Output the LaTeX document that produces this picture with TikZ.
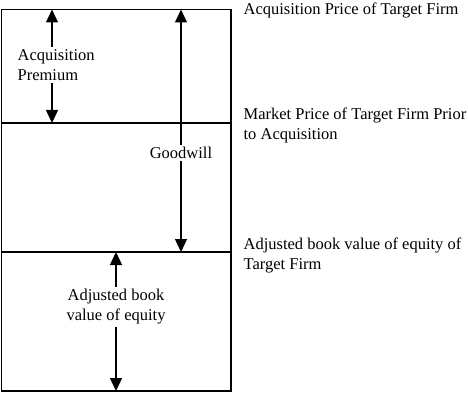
\documentclass[tikz,border=0pt]{standalone}
\usepackage{fontspec}
\setmainfont{Liberation Serif}
\usetikzlibrary{arrows.meta}
\tikzset{
  arr/.style={-{Triangle[width=12pt,length=13pt]},line width=1.3pt},
  lbl/.style={font=\fontsize{16.5}{20}\selectfont,inner sep=2pt},
  side/.style={lbl,anchor=west,align=left},
}
\begin{document}
\begin{tikzpicture}[x=1pt,y=-1pt,line width=1.3pt]
  \useasboundingbox (0,0) rectangle (468,393);
  % box and levels
  \draw (1.5,9.5) rectangle (231,391);
  \draw (1.5,123) -- (231,123);
  \draw (1.5,252) -- (231,252);
  % arrow ends on the levels
  \coordinate (premtop) at (52,9.5);
  \coordinate (prembot) at (52,123);
  \coordinate (goodtop) at (181,9.5);
  \coordinate (goodbot) at (181,252);
  \coordinate (booktop) at (116,252);
  \coordinate (bookbot) at (116,391);
  % labels inside
  \node[lbl,align=left,anchor=west] (prem) at (15,65) {Acquisition\\Premium};
  \node[lbl] (good) at (181,153) {Goodwill};
  \node[lbl,align=center] (book) at (116,307) {Adjusted book\\value of equity};
  % arrows
  \draw[arr] (prem.north -| premtop) -- (premtop);
  \draw[arr] (prem.south -| prembot) -- (prembot);
  \draw[arr] (good) -- (goodtop);
  \draw[arr] (good) -- (goodbot);
  \draw[arr] (book) -- (booktop);
  \draw[arr] (book) -- (bookbot);
  % labels on the right
  \node[side] (price) at (241,10) {Acquisition Price of Target Firm};
  \node[side] (market) at (241,125) {Market Price of Target Firm Prior\\to Acquisition};
  \node[side] (adjusted) at (241,255) {Adjusted book value of equity of\\Target Firm};
\end{tikzpicture}
\end{document}
